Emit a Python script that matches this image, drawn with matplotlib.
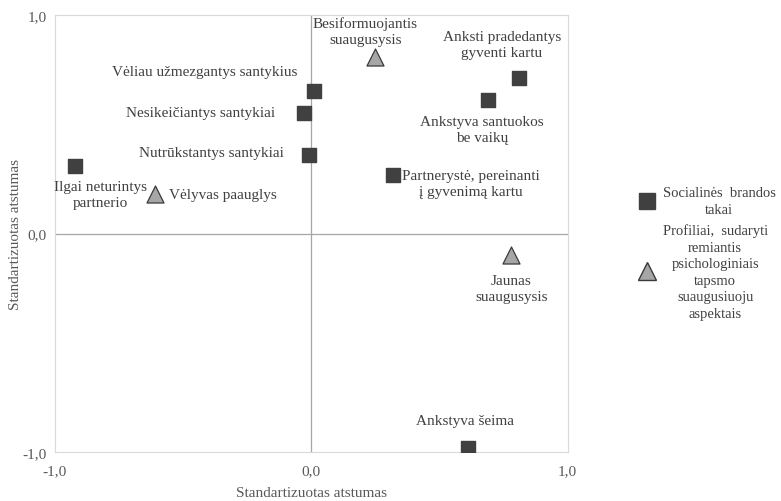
import matplotlib.pyplot as plt
from matplotlib.lines import Line2D

plt.rcParams['font.family'] = ['Liberation Serif', 'DejaVu Serif']

# social maturity pathways (squares)
soc_names = ["Ilgai neturintys\npartnerio", "Vėliau užmezgantys santykius",
             "Nesikeičiantys santykiai", "Nutrūkstantys santykiai",
             "Anksti pradedantys\ngyventi kartu", "Ankstyva santuokos\nbe vaikų",
             "Partnerystė, pereinanti\nį gyvenimą kartu", "Ankstyva šeima"]
soc_x = [-0.92, 0.01, -0.03, -0.01, 0.81, 0.69, 0.32, 0.61]
soc_y = [0.31, 0.65, 0.55, 0.36, 0.71, 0.61, 0.27, -0.98]

# psychological profiles (triangles)
psy_names = ["Vėlyvas paauglys", "Besiformuojantis\nsuaugusysis", "Jaunas\nsuaugusysis"]
psy_x = [-0.61, 0.25, 0.78]
psy_y = [0.18, 0.81, -0.10]

ticks = [-1.0, 0.0, 1.0]
tick_labels = ["-1,0", "0,0", "1,0"]

# label offsets in pixels (dx, dy, ha)
soc_off = [(25, -29, 'center'), (-17, 20, 'right'), (-29, 1, 'right'), (-25, 2, 'right'),
           (-17, 34, 'center'), (-6, -29, 'center'), (77, -9, 'center'), (-3, 27, 'center')]
psy_off = [(14, 0, 'left'), (-10, 25, 'center'), (0, -33, 'center')]

dark = '#404040'
light = '#a6a6a6'
txt = '#404040'
fs = 11

fig = plt.figure(figsize=(7.81, 5.02), dpi=100)
ax = fig.add_axes([0.0704, 0.0976, 0.6565, 0.8705])

ax.axhline(0, color='#a6a6a6', lw=0.9, zorder=1)
ax.axvline(0, color='#a6a6a6', lw=0.9, zorder=1)

ax.scatter(soc_x, soc_y, marker='s', s=100, color=dark, edgecolors=dark, zorder=3)
ax.scatter(psy_x, psy_y, marker='^', s=150, color=light, edgecolors='#3a3a3a', linewidths=0.9, zorder=3)

for name, x, y, (dx, dy, ha) in zip(soc_names + psy_names, soc_x + psy_x, soc_y + psy_y, soc_off + psy_off):
    ax.annotate(name, (x, y), xytext=(dx, dy), textcoords='offset pixels',
                ha=ha, va='center', multialignment='center', linespacing=1.3,
                fontsize=fs, color=txt)

ax.set_xlim(-1, 1)
ax.set_ylim(-1, 1)
ax.set_xticks(ticks)
ax.set_xticklabels(tick_labels)
ax.set_yticks(ticks)
ax.set_yticklabels(tick_labels)
ax.tick_params(length=0, labelsize=fs, labelcolor='#595959')
ax.tick_params(axis='y', pad=6)
ax.tick_params(axis='x', pad=9)
for sp in ax.spines.values():
    sp.set_color('#d9d9d9')

ax.set_xlabel('Standartizuotas atstumas', fontsize=fs, color='#595959')
ax.set_ylabel('Standartizuotas atstumas', fontsize=fs, color='#595959')
ax.xaxis.set_label_coords(0.5, -0.078)
ax.yaxis.set_label_coords(-0.064, 0.5)

handles = [Line2D([], [], ls='', marker='s', ms=11, color=dark),
           Line2D([], [], ls='', marker='^', ms=13, markerfacecolor=light, markeredgecolor='#3a3a3a')]
labels = ["Socialinės  brandos\ntakai",
          "Profiliai,  sudaryti\nremiantis\npsichologiniais\ntapsmo\nsuaugusiuoju\naspektais"]
leg = fig.legend(handles, labels, loc='center left', bbox_to_anchor=(0.797, 0.494), frameon=False,
                 fontsize=10.5, handletextpad=0.35, labelspacing=0.5, handlelength=1.5)
for t in leg.get_texts():
    t.set_multialignment('center')
    t.set_linespacing(1.35)
    t.set_color(txt)

fig.savefig('out.png', dpi=100)
